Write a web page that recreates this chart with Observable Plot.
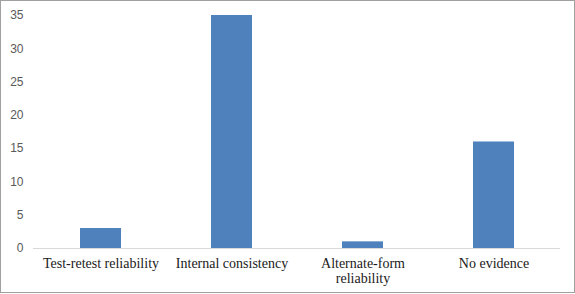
<!DOCTYPE html>
<html>
<head>
<meta charset="utf-8">
<script src="https://cdn.jsdelivr.net/npm/d3@7"></script>
<script src="https://cdn.jsdelivr.net/npm/@observablehq/plot@0.6"></script>
<style>
  html, body { margin: 0; padding: 0; background: #fff; }
  #wrap { position: relative; width: 575px; height: 294px; }
  #frame { position: absolute; left: 0; top: 0; width: 573px; height: 291px; border: 1px solid #a0a0a0; pointer-events: none; }
  svg { display: block; }
</style>
</head>
<body>
<div id="wrap"><div id="chart"></div><div id="frame"></div></div>
<script>
const categories = ["Test-retest reliability", "Internal consistency", "Alternate-form reliability", "No evidence"];
const values = [3, 35, 1, 16];
const xTickLabels = ["Test-retest reliability", "Internal consistency", "Alternate-form\nreliability", "No evidence"];
const yTicks = [0, 5, 10, 15, 20, 25, 30, 35];

const data = categories.map((c, i) => ({category: c, value: values[i]}));
const labelOf = new Map(categories.map((c, i) => [c, xTickLabels[i]]));

const chart = Plot.plot({
  width: 575,
  height: 294,
  marginLeft: 33,
  marginRight: 15,
  marginTop: 15,
  marginBottom: 46,
  style: {background: "#fff", fontFamily: "'Liberation Sans', Arial, sans-serif"},
  x: {domain: categories, paddingInner: 0.69, paddingOuter: 0.345, axis: null},
  y: {domain: [0, 35], axis: null},
  marks: [
    Plot.barY(data, {x: "category", y: "value", fill: "#4f81bd"}),
    Plot.ruleY([0], {stroke: "#d9d9d9", strokeWidth: 1}),
    Plot.axisY(yTicks, {
      tickSize: 0, tickPadding: 10, label: null,
      fontSize: 12, fill: "#595959"
    }),
    Plot.axisX({
      tickSize: 0, tickPadding: 9, label: null,
      tickFormat: d => labelOf.get(d),
      fontSize: 14, fill: "#1a1a1a",
      lineHeight: 1.08
    })
  ]
});
const xLabelSet = new Set(xTickLabels.map(s => s.replace(/\n/g, "")));
d3.select(chart).selectAll("text").each(function() {
  if (xLabelSet.has(this.textContent)) {
    this.setAttribute("font-family", "Liberation Serif");
    this.style.fontFamily = "'Liberation Serif', 'Times New Roman', serif";
  }
});
document.getElementById("chart").appendChild(chart);
</script>
</body>
</html>
